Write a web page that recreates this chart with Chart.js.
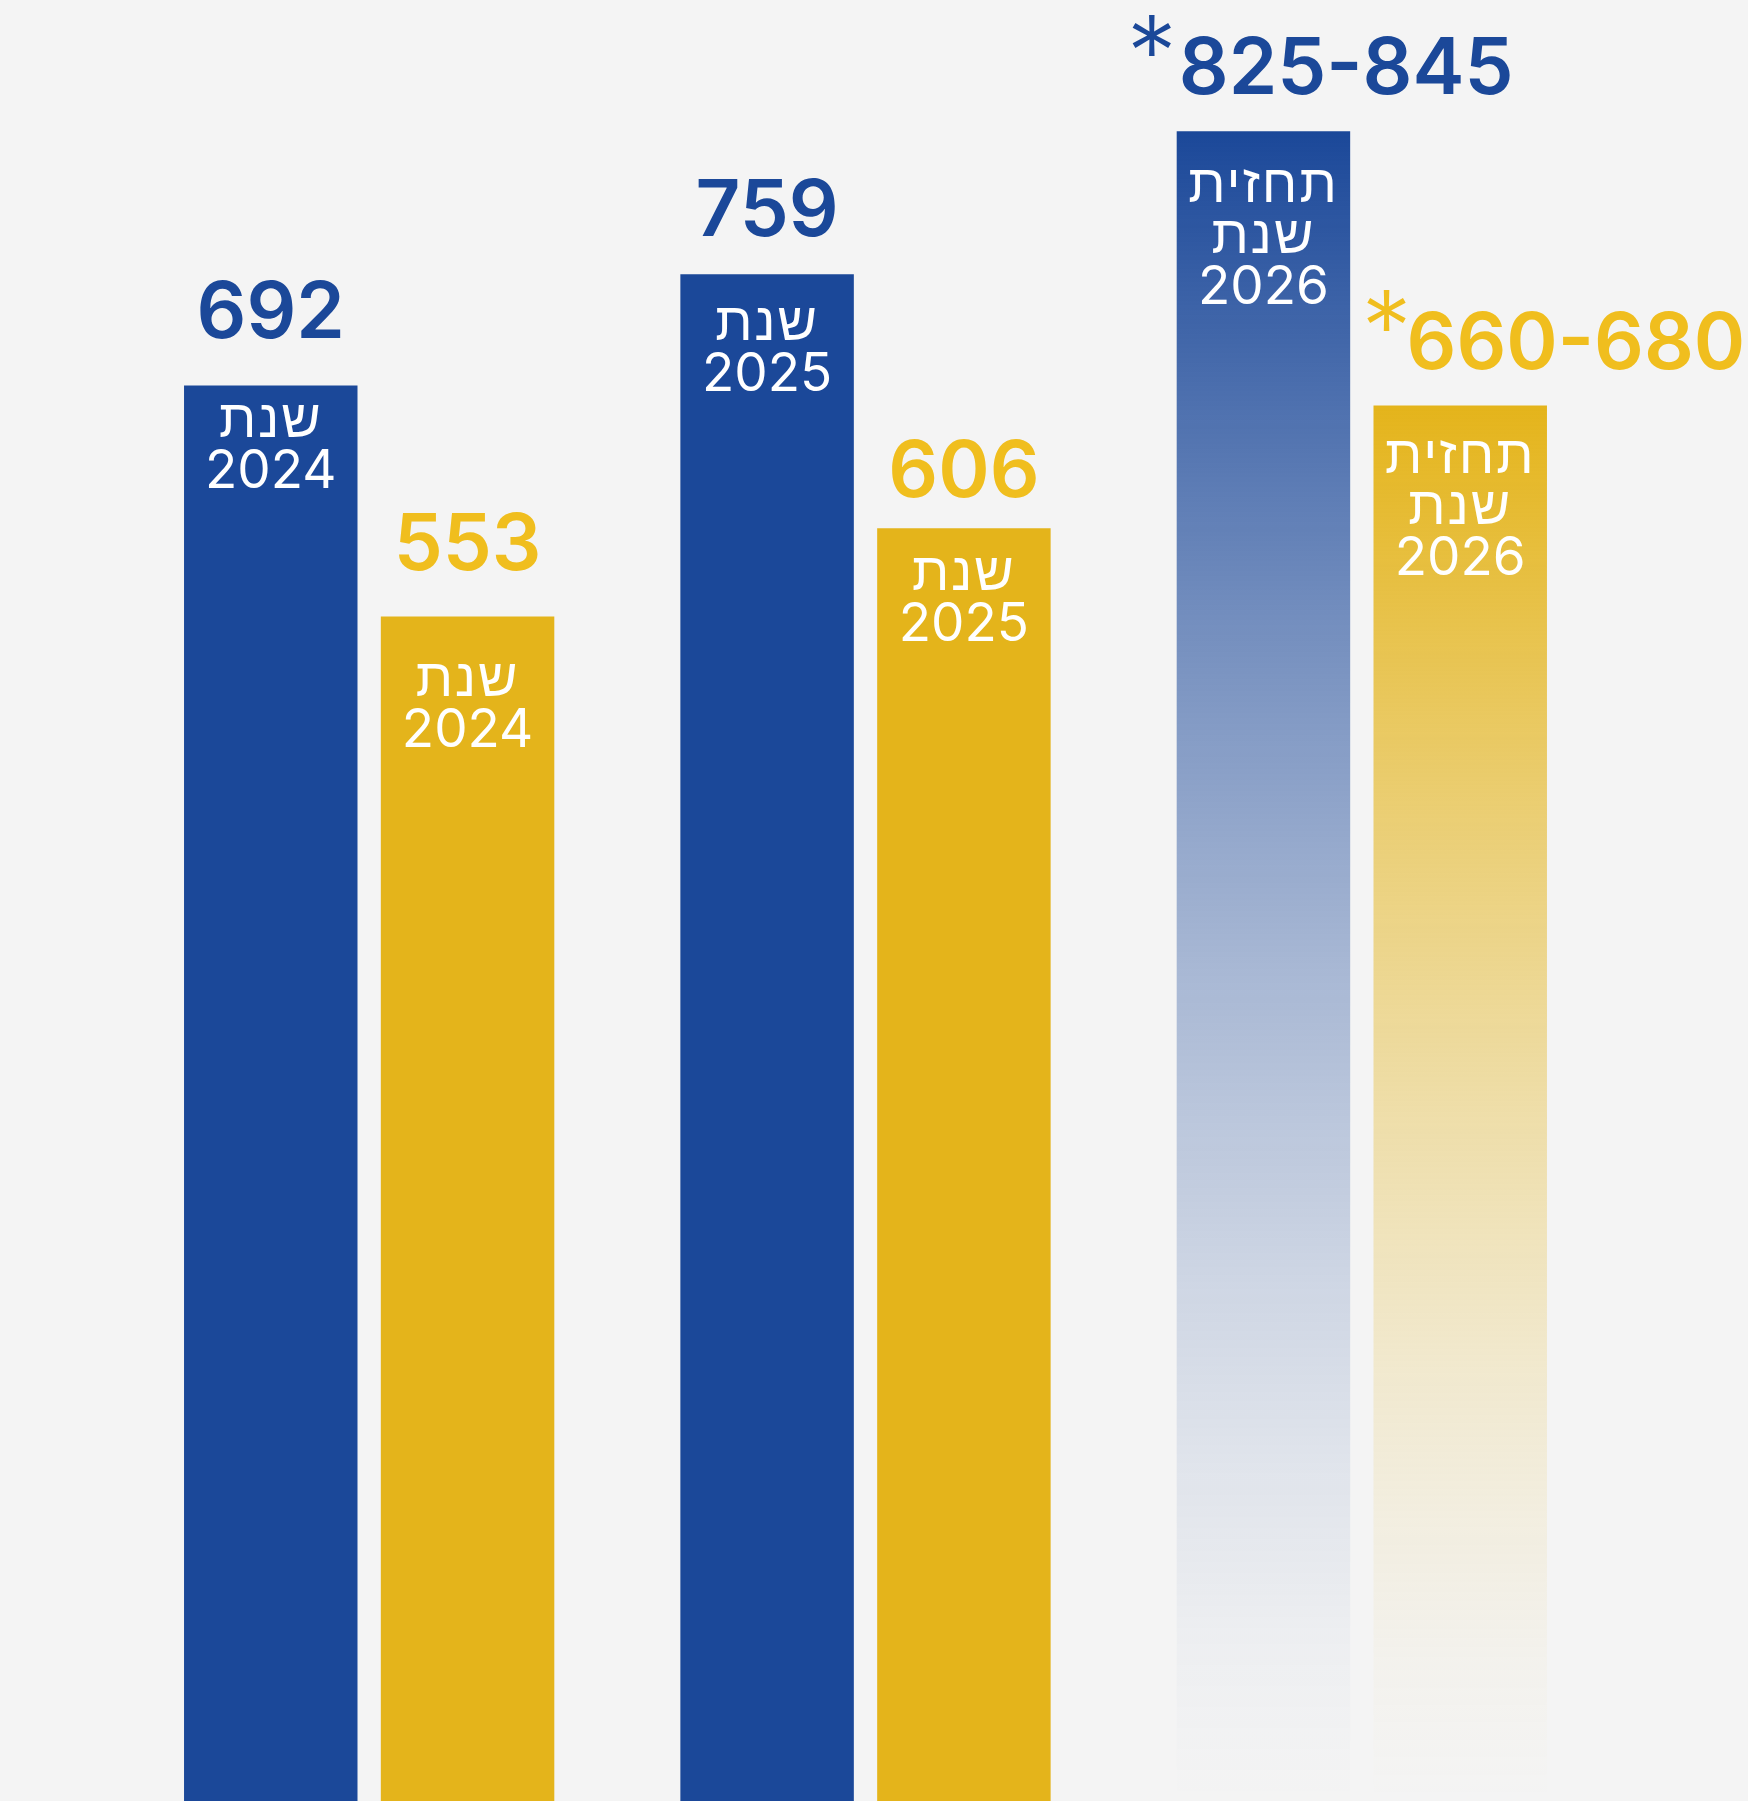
<!DOCTYPE html>
<html lang="he">
<head>
<meta charset="utf-8">
<title>שנת 2024 - 2026</title>
<script src="https://cdn.jsdelivr.net/npm/chart.js@4.4.1/dist/chart.umd.min.js"></script>
<style>
    html, body { margin: 0; padding: 0; background: #f4f4f4; }
    #chart { display: block; }
</style>
</head>
<body>
<canvas id="chart" width="1748" height="1801"></canvas>
<script>
// years on the x axis
var years = ["2024", "2025", "2026"];
// blue series (2026 = top of the forecast range)
var blueValues = [692, 759, 845];
var blueRangeLow = [null, null, 825];
// gold series (2026 = top of the forecast range)
var goldValues = [553, 606, 680];
var goldRangeLow = [null, null, 660];
// which years are a forecast
var isForecast = [false, false, true];

var yearWord = "שנת";
var forecastWord = "תחזית";

// value axis window, bars start from the bottom edge
var Y_MIN = -160;
var Y_MAX = 924;

var BLUE = "27, 72, 153";
var GOLD = "228, 180, 27";
var NUM_FONT = 'Inter, "Liberation Sans", sans-serif';
var HEB_FONT = '"Liberation Sans", "DejaVu Sans", Arial, sans-serif';

// label placement for each dataset
var labelStyle = [
    { color: "#1b4899", valueGap: [47, 38, 37], innerOffset: [52, 66, 71], rangeShift: 2, starGap: 7 },
    { color: "#f0be1e", valueGap: [46, 31, 36], innerOffset: [80, 62, 68], rangeShift: 33, starGap: 0 }
];

// solid colour for real years, fading colour for the forecast
function barFill(rgb) {
    return function (c) {
        var chart = c.chart;
        var area = chart.chartArea;
        if (c.type !== "data" || !area || !isForecast[c.dataIndex]) {
            return "rgb(" + rgb + ")";
        }
        var top = chart.scales.y.getPixelForValue(c.raw);
        var g = chart.ctx.createLinearGradient(0, top, 0, area.bottom);
        for (var i = 0; i <= 10; i++) {
            var t = i / 10;
            g.addColorStop(t, "rgba(" + rgb + "," + Math.pow(1 - t, 1.5).toFixed(3) + ")");
        }
        return g;
    };
}

// numbers above the bars and the year text inside them
var barLabels = {
    id: "barLabels",
    afterDatasetsDraw: function (chart) {
        var ctx = chart.ctx;
        ctx.save();
        ctx.direction = "ltr";
        ctx.textBaseline = "alphabetic";

        chart.data.datasets.forEach(function (ds, di) {
            var st = labelStyle[di];
            var lows = di === 0 ? blueRangeLow : goldRangeLow;
            chart.getDatasetMeta(di).data.forEach(function (bar, i) {
                var left = bar.x - bar.width / 2;
                var top = bar.y;
                var baseline = top - st.valueGap[i];

                ctx.fillStyle = st.color;
                ctx.font = "600 78px " + NUM_FONT;
                ctx.letterSpacing = "0px";
                if (lows[i] != null) {
                    var x0 = left + st.rangeShift;
                    ctx.textAlign = "left";
                    ctx.fillText(lows[i] + "-" + ds.data[i], x0, baseline);

                    // asterisk marking the forecast
                    ctx.font = "300 100px " + NUM_FONT;
                    var m = ctx.measureText("*");
                    var starTop = baseline - 79;
                    ctx.fillText("*", x0 - st.starGap - m.actualBoundingBoxRight, starTop + m.actualBoundingBoxAscent);
                } else {
                    ctx.textAlign = "center";
                    ctx.fillText(String(ds.data[i]), bar.x, baseline);
                }

                var lines = isForecast[i] ? [forecastWord, yearWord, years[i]] : [yearWord, years[i]];
                ctx.fillStyle = "#ffffff";
                ctx.textAlign = "center";
                lines.forEach(function (line, li) {
                    var isYear = /^\d+$/.test(line);
                    ctx.font = isYear ? "normal 53px " + NUM_FONT : "normal 54px " + HEB_FONT;
                    ctx.letterSpacing = isYear ? "0px" : "2px";
                    ctx.fillText(line, bar.x, top + st.innerOffset[i] + li * 51);
                });
            });
        });
        ctx.restore();
    }
};

new Chart(document.getElementById("chart"), {
    type: "bar",
    data: {
        labels: years,
        datasets: [
            { data: blueValues, backgroundColor: barFill(BLUE), base: Y_MIN, borderWidth: 0 },
            { data: goldValues, backgroundColor: barFill(GOLD), base: Y_MIN, borderWidth: 0 }
        ]
    },
    options: {
        responsive: false,
        animation: false,
        devicePixelRatio: 1,
        layout: { padding: { left: 121, right: 138, top: 0, bottom: 0 } },
        datasets: {
            bar: { categoryPercentage: 0.793, barPercentage: 0.8815 }
        },
        plugins: {
            legend: { display: false },
            tooltip: { enabled: false }
        },
        scales: {
            x: { display: false },
            y: { display: false, min: Y_MIN, max: Y_MAX }
        }
    },
    plugins: [barLabels]
});
</script>
</body>
</html>
